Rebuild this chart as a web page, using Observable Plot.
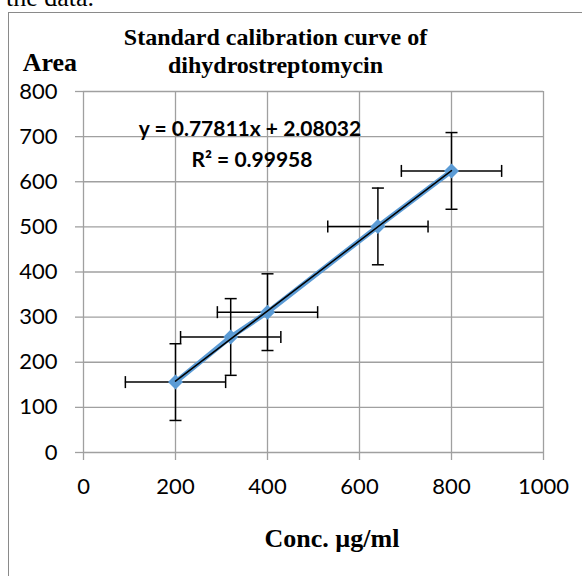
<!DOCTYPE html>
<html>
<head>
<meta charset="utf-8">
<script src="https://cdn.jsdelivr.net/npm/d3@7"></script>
<script src="https://cdn.jsdelivr.net/npm/@observablehq/plot@0.6"></script>
<style>
  html, body { margin: 0; padding: 0; background: white; }
  #wrap { position: relative; width: 582px; height: 576px; overflow: hidden; }
  .ov { position: absolute; white-space: nowrap; color: black; }
  #frame { position: absolute; left: 7.5px; top: 12px; width: 620px; height: 620px;
           border-left: 1.5px solid #8a8a8a; border-top: 1.5px solid #8a8a8a; }
</style>
</head>
<body>
<div id="wrap">
  <div id="chart"></div>
</div>
<script>
// ---- data ----
const concValues = [200, 320, 400, 640, 800];
const areaValues = [156, 256, 311, 501, 624];
const concErr = [109, 109, 109, 109, 109];
const areaErr = [85, 85, 85, 85, 85];
const xTicks = [0, 200, 400, 600, 800, 1000];
const yTicks = [0, 100, 200, 300, 400, 500, 600, 700, 800];

const chartTitle = ["Standard calibration curve of", "dihydrostreptomycin"];
const yLabel = "Area";
const xLabel = "Conc. µg/ml";
const eqLines = ["y = 0.77811x + 2.08032", "R² = 0.99958"];
const pageText = "the data.";

const data = concValues.map((x, i) => ({x, y: areaValues[i], ex: concErr[i], ey: areaErr[i]}));

// custom symbols
const hLine = {draw(ctx, size) { const r = Math.sqrt(size / Math.PI); ctx.moveTo(-r, 0); ctx.lineTo(r, 0); }};
const vLine = {draw(ctx, size) { const r = Math.sqrt(size / Math.PI); ctx.moveTo(0, -r); ctx.lineTo(0, r); }};
const diamond = {draw(ctx, size) { const r = Math.sqrt(size / Math.PI);
  ctx.moveTo(0, -r); ctx.lineTo(r, 0); ctx.lineTo(0, r); ctx.lineTo(-r, 0); ctx.closePath(); }};

const gridColor = "#a0a0a0";
const blue = "#5B9BD5";
const tickFont = "Lato, 'Open Sans', sans-serif";

const chart = Plot.plot({
  width: 582,
  height: 576,
  marginLeft: 83,
  marginRight: 39,
  marginTop: 91,
  marginBottom: 124,
  style: {background: "transparent", overflow: "visible"},
  x: {domain: [0, 1000]},
  y: {domain: [0, 800]},
  marks: [
    Plot.gridX({ticks: xTicks, stroke: gridColor, strokeOpacity: 1, strokeWidth: 1.3}),
    Plot.gridY({ticks: yTicks, stroke: gridColor, strokeOpacity: 1, strokeWidth: 1.3}),
    Plot.axisX({ticks: xTicks, tickSize: 8, tickPadding: 18, stroke: gridColor, strokeWidth: 1.3,
      fill: "black", fontSize: 22, fontFamily: tickFont, label: null, tickFormat: d => String(d)}),
    Plot.axisY({ticks: yTicks, tickSize: 8, tickPadding: 18, stroke: gridColor, strokeWidth: 1.3,
      fill: "black", fontSize: 22, fontFamily: tickFont, label: null, tickFormat: d => String(d)}),
    Plot.line(data, {x: "x", y: "y", stroke: blue, strokeWidth: 5}),
    Plot.ruleX(data, {x: "x", y1: d => d.y - d.ey, y2: d => d.y + d.ey, stroke: "black", strokeWidth: 1.5}),
    Plot.ruleY(data, {y: "y", x1: d => d.x - d.ex, x2: d => d.x + d.ex, stroke: "black", strokeWidth: 1.5}),
    Plot.dot(data, {x: "x", y: d => d.y - d.ey, symbol: hLine, r: 6, stroke: "black", strokeWidth: 1.5, fill: "none"}),
    Plot.dot(data, {x: "x", y: d => d.y + d.ey, symbol: hLine, r: 6, stroke: "black", strokeWidth: 1.5, fill: "none"}),
    Plot.dot(data, {x: d => d.x - d.ex, y: "y", symbol: vLine, r: 6, stroke: "black", strokeWidth: 1.5, fill: "none"}),
    Plot.dot(data, {x: d => d.x + d.ex, y: "y", symbol: vLine, r: 6, stroke: "black", strokeWidth: 1.5, fill: "none"}),
    Plot.dot(data, {x: "x", y: "y", symbol: diamond, r: 7.5, fill: blue, stroke: "none"}),
    Plot.linearRegressionY(data, {x: "x", y: "y", stroke: "black", strokeWidth: 1.5, ci: 0})
  ]
});
document.getElementById("chart").appendChild(chart);

const wrap = document.getElementById("wrap");
function addText(txt, {left, center, baseline, size, family, bold}) {
  const d = document.createElement("div");
  d.className = "ov";
  d.textContent = txt;
  d.style.fontSize = size + "px";
  d.style.lineHeight = size + "px";
  d.style.fontFamily = family;
  if (bold) d.style.fontWeight = "bold";
  wrap.appendChild(d);
  const probe = document.createElement("span");
  probe.style.display = "inline-block"; probe.style.width = "0"; probe.style.height = "0";
  probe.style.verticalAlign = "baseline";
  d.appendChild(probe);
  d.style.top = "0px";
  d.style.left = "0px";
  const dr = d.getBoundingClientRect();
  const pr = probe.getBoundingClientRect();
  const baseOff = pr.bottom - dr.top;
  d.style.top = (baseline - baseOff) + "px";
  if (center !== undefined) d.style.left = (center - dr.width / 2) + "px";
  else d.style.left = left + "px";
}
const serif = "'Liberation Serif', 'Times New Roman', serif";
addText(pageText, {left: 6, baseline: 6, size: 26, family: serif});
addText(chartTitle[0], {center: 275.5, baseline: 45, size: 24, family: serif, bold: true});
addText(chartTitle[1], {center: 275.5, baseline: 73, size: 24, family: serif, bold: true});
addText(yLabel, {left: 22.7, baseline: 71, size: 26, family: serif, bold: true});
addText(xLabel, {center: 332, baseline: 547, size: 26, family: serif, bold: true});
addText(eqLines[0], {center: 250, baseline: 136, size: 21, family: tickFont, bold: true});
addText(eqLines[1], {center: 252, baseline: 167, size: 21, family: tickFont, bold: true});

const frame = document.createElement("div");
frame.id = "frame";
wrap.appendChild(frame);
</script>
</body>
</html>
